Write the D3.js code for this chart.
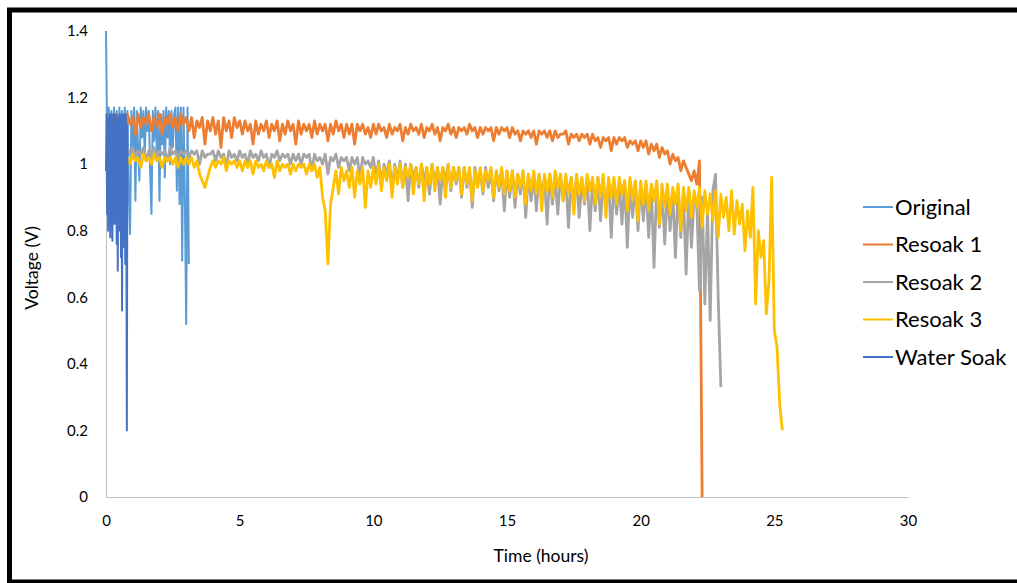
<!DOCTYPE html>
<html>
<head>
<meta charset="utf-8">
<script src="https://cdn.jsdelivr.net/npm/d3@7"></script>
<style>
  html, body { margin: 0; padding: 0; background: #fff; }
  svg { display: block; }
  text { font-family: Lato, "Liberation Sans", Arial, sans-serif; fill: #000; }
</style>
</head>
<body>
<svg id="chart" width="1017" height="583"></svg>
<script>
// ---- Data ----
const seriesNames = ["Original", "Resoak 1", "Resoak 2", "Resoak 3", "Water Soak"];
const seriesColors = ["#5B9BD5", "#ED7D31", "#A5A5A5", "#FFC000", "#4472C4"];

const xTickLabels = [0, 5, 10, 15, 20, 25, 30];
const yTickLabels = [0, 0.2, 0.4, 0.6, 0.8, 1, 1.2, 1.4];

// logging start (hours) and sampling interval (hours) of each run
const originalStart = 0,   originalStep = 0.05;
const resoak1Start = 0.2,  resoak1Step = 0.1;
const resoak2Start = 0.8,  resoak2Step = 0.1;
const resoak3Start = 0.8,  resoak3Step = 0.1;
const waterStart = 0,      waterStep = 0.02;

const originalValues = [
  1.40,1.02,1.17,1.10,1.16,0.98,1.17,1.05,1.16,0.95,
  1.17,1.08,1.16,1.00,1.17,1.06,1.16,0.92,0.79,1.16,
  1.02,1.17,0.89,1.16,1.05,0.95,1.17,1.08,1.16,1.03,
  1.17,1.10,1.16,0.98,0.85,1.16,1.07,1.17,1.04,1.16,
  0.89,1.15,1.06,1.16,0.96,1.17,1.08,1.16,1.00,1.16,
  1.05,1.15,1.17,0.92,1.17,0.88,1.17,0.71,1.17,0.90,
  0.52,1.17,0.70
];

const resoak1Values = [
  1.15,1.12,1.15,1.11,1.14,1.10,1.15,1.12,1.14,1.09,
  1.15,1.11,1.14,1.12,1.15,1.10,1.14,1.11,1.15,1.09,
  1.14,1.12,1.15,1.11,1.14,1.10,1.15,1.12,1.14,
  1.10,1.14,1.08,1.13,1.11,1.14,1.06,1.13,1.10,1.14,
  1.09,1.13,1.05,1.14,1.10,1.13,1.08,1.14,1.11,1.13,
  1.09,1.13,1.10,1.12,1.06,1.13,1.09,1.12,1.10,1.13,
  1.08,1.12,1.10,1.13,1.07,1.12,1.09,1.13,1.10,1.12,
  1.06,1.13,1.09,1.12,1.10,1.12,1.08,1.13,1.09,1.12,
  1.10,1.12,1.07,1.12,1.09,1.13,1.10,1.12,1.08,1.12,
  1.09,1.12,1.06,1.12,1.10,1.12,1.09,1.11,1.08,1.12,
  1.09,1.12,1.10,1.11,1.08,1.12,1.09,1.11,1.10,1.12,
  1.07,1.11,1.09,1.12,1.10,1.11,1.09,1.12,1.08,1.11,
  1.10,1.12,1.09,1.11,1.07,1.11,1.10,1.12,1.09,1.11,
  1.08,1.11,1.10,1.11,1.09,1.12,1.10,1.11,1.08,1.11,
  1.09,1.11,1.10,1.11,1.07,1.11,1.09,1.11,1.10,1.11,
  1.08,1.11,1.09,1.10,1.07,1.10,1.09,1.10,1.08,1.10,
  1.06,1.10,1.09,1.10,1.08,1.10,1.07,1.10,1.08,1.09,
  1.09,1.10,1.06,1.09,1.08,1.09,1.07,1.09,1.08,1.09,
  1.06,1.09,1.07,1.08,1.05,1.08,1.07,1.08,1.04,1.08,
  1.06,1.08,1.07,1.08,1.05,1.07,1.06,1.07,1.04,1.07,
  1.05,1.07,1.03,1.06,1.04,1.06,1.02,1.05,1.03,1.04,
  1.00,1.03,1.01,1.02,0.98,1.01,0.99,0.97,0.95,0.98,
  0.94,1.01,0.00
];

const resoak2Values = [
  1.05,1.03,1.05,1.02,1.04,1.03,1.05,1.01,1.04,1.03,
  1.05,1.02,1.04,1.03,1.04,1.01,1.05,1.03,1.04,1.02,
  1.04,1.03,1.04,
  1.02,1.04,1.03,1.04,1.00,1.04,1.02,1.03,1.03,1.04,
  1.01,1.04,1.02,1.03,0.99,1.04,1.02,1.03,1.01,1.04,
  1.02,1.03,1.00,1.04,1.02,1.03,1.01,1.04,1.02,1.03,
  0.99,1.03,1.02,1.04,1.01,1.03,1.02,1.03,1.00,1.03,
  1.01,1.03,1.00,1.03,1.02,1.03,0.98,1.03,1.01,1.02,
  1.00,1.03,0.97,1.02,1.01,1.03,0.99,1.02,1.01,1.02,
  0.98,1.02,1.00,1.02,0.96,1.02,1.00,1.01,0.99,1.02,
  0.96,1.01,0.94,1.00,0.97,1.01,0.92,1.00,0.95,1.01,
  0.93,1.00,0.89,1.00,0.96,0.99,0.93,1.00,0.95,0.99,
  0.91,1.00,0.94,0.99,0.88,0.99,0.95,1.00,0.92,0.99,
  0.94,0.99,0.90,0.99,0.93,0.98,0.87,0.99,0.94,0.98,
  0.91,0.99,0.93,0.98,0.89,0.98,0.92,0.98,0.86,0.98,
  0.90,0.98,0.87,0.97,0.91,0.98,0.84,0.97,0.89,0.97,
  0.86,0.97,0.90,0.96,0.82,0.97,0.88,0.96,0.85,0.97,
  0.89,0.96,0.81,0.96,0.87,0.96,0.84,0.95,0.88,0.96,
  0.80,0.95,0.86,0.96,0.83,0.95,0.87,0.95,0.78,0.95,
  0.85,0.94,0.82,0.95,0.75,0.94,0.84,0.95,0.80,0.94,
  0.83,0.94,0.78,0.93,0.69,0.94,0.81,0.92,0.76,0.93,
  0.80,0.92,0.72,0.93,0.78,0.91,0.67,0.92,0.75,0.90,
  0.88,0.62,0.90,0.58,0.86,0.53,0.92,0.97,0.60,0.33
];

const resoak3Values = [
  1.02,1.00,1.03,1.01,1.02,0.99,1.03,1.01,1.02,1.00,
  1.03,1.01,1.02,0.99,1.02,1.01,1.02,1.00,1.02,0.99,
  1.02,1.00,1.02,
  1.00,1.02,0.99,1.01,0.97,0.95,0.93,0.96,0.99,1.01,
  0.99,1.01,1.00,1.02,0.98,1.01,1.00,1.01,0.99,1.01,
  0.98,1.01,0.99,1.01,0.97,1.01,0.99,1.00,0.98,1.01,
  0.99,1.00,0.96,1.01,0.98,1.00,0.99,1.00,0.97,1.00,
  0.98,1.00,0.99,1.00,0.97,1.00,0.98,1.00,0.96,0.99,
  0.90,0.86,0.70,0.88,0.93,0.98,0.91,0.99,0.95,0.98,
  0.93,0.99,0.90,0.98,0.94,0.99,0.87,0.98,0.93,0.99,
  0.94,1.00,0.92,0.99,0.95,1.00,0.90,0.99,0.94,1.00,
  0.93,0.99,0.96,1.00,0.91,0.99,0.94,1.00,0.89,0.99,
  0.94,1.00,0.92,0.99,0.95,0.99,0.90,1.00,0.93,0.99,
  0.95,0.99,0.91,0.99,0.94,0.99,0.89,0.98,0.93,0.99,
  0.92,0.98,0.95,0.99,0.90,0.98,0.93,0.99,0.91,0.98,
  0.92,0.98,0.90,0.97,0.93,0.98,0.88,0.97,0.92,0.98,
  0.91,0.97,0.86,0.97,0.92,0.97,0.90,0.98,0.93,0.97,
  0.89,0.97,0.91,0.96,0.85,0.97,0.91,0.96,0.89,0.97,
  0.92,0.96,0.88,0.96,0.90,0.97,0.84,0.96,0.90,0.96,
  0.88,0.96,0.91,0.95,0.86,0.96,0.89,0.95,0.83,0.95,
  0.88,0.95,0.86,0.94,0.89,0.95,0.82,0.94,0.87,0.94,
  0.85,0.93,0.88,0.94,0.80,0.93,0.86,0.93,0.84,0.92,
  0.87,0.93,0.81,0.92,0.85,0.91,0.83,0.92,0.78,0.91,
  0.84,0.90,0.80,0.92,0.79,0.89,0.82,0.88,0.74,0.86,
  0.78,0.93,0.58,0.80,0.72,0.77,0.55,0.65,0.96,0.50,
  0.45,0.28,0.20
];

const waterValues = [
  0.98,1.15,0.85,1.14,0.80,1.13,0.95,1.15,0.78,1.14,
  0.90,1.15,0.77,1.12,0.88,1.15,0.82,1.14,0.92,1.15,
  0.76,1.14,0.68,1.13,0.85,1.15,0.80,1.14,0.72,1.15,
  0.56,1.14,0.75,1.15,0.82,1.13,0.70,1.15,0.90,0.20,
  1.12
];

// ---- Build series ----
function build(values, start, step) {
  return values.map((v, i) => ({ t: start + i * step, v: v }));
}
const series = [
  build(originalValues, originalStart, originalStep),
  build(resoak1Values, resoak1Start, resoak1Step),
  build(resoak2Values, resoak2Start, resoak2Step),
  build(resoak3Values, resoak3Start, resoak3Step),
  build(waterValues, waterStart, waterStep)
];
const strokeWidths = [2, 2.8, 2.8, 2.8, 2];

// ---- Layout ----
const svg = d3.select("#chart");
const plot = { left: 106, right: 908, top: 31, bottom: 497 };

const x = d3.scaleLinear().domain([0, 30]).range([plot.left, plot.right]);
const y = d3.scaleLinear().domain([0, 1.4]).range([plot.bottom, plot.top]);

// outer frame
svg.append("rect")
  .attr("x", 9.5).attr("y", 10).attr("width", 1030).attr("height", 572)
  .attr("fill", "none").attr("stroke", "#000").attr("stroke-width", 5);

// axes
const xAxis = d3.axisBottom(x).tickValues(xTickLabels).tickSize(0).tickPadding(18)
  .tickFormat(d3.format("d"));
const gx = svg.append("g").attr("transform", `translate(0,${plot.bottom})`).call(xAxis);
gx.select(".domain").attr("stroke", "#BFBFBF").attr("stroke-width", 1);
gx.selectAll("text").attr("font-size", 15).attr("font-family", "Lato, 'Liberation Sans', sans-serif").attr("fill", "#000");

const yAxis = d3.axisLeft(y).tickValues(yTickLabels).tickSize(0).tickPadding(18)
  .tickFormat(d => d3.format("")(+d.toFixed(1)));
const gy = svg.append("g").attr("transform", `translate(${plot.left},0)`).call(yAxis);
gy.select(".domain").attr("stroke", "#BFBFBF").attr("stroke-width", 1);
gy.selectAll("text").attr("font-size", 15).attr("font-family", "Lato, 'Liberation Sans', sans-serif").attr("fill", "#000");

// lines
const line = d3.line().x(d => x(d.t)).y(d => y(d.v));
const gLines = svg.append("g");
series.forEach((s, i) => {
  gLines.append("path")
    .datum(s)
    .attr("d", line)
    .attr("fill", "none")
    .attr("stroke", seriesColors[i])
    .attr("stroke-width", strokeWidths[i])
    .attr("stroke-linejoin", "round");
});

// axis titles
svg.append("text")
  .attr("x", 541).attr("y", 562)
  .attr("text-anchor", "middle").attr("font-size", 17.5)
  .text("Time (hours)");
svg.append("text")
  .attr("transform", `translate(38,${(plot.top + plot.bottom) / 2 + 4}) rotate(-90)`)
  .attr("text-anchor", "middle").attr("font-size", 17.5)
  .text("Voltage (V)");

// legend
const legend = svg.append("g");
seriesNames.forEach((name, i) => {
  const ly = 207 + i * 37.5;
  legend.append("line")
    .attr("x1", 863).attr("x2", 893).attr("y1", ly).attr("y2", ly)
    .attr("stroke", seriesColors[i]).attr("stroke-width", 2);
  legend.append("text")
    .attr("x", 895).attr("y", ly).attr("dy", "0.36em")
    .attr("font-size", 22)
    .text(name);
});
</script>
</body>
</html>
